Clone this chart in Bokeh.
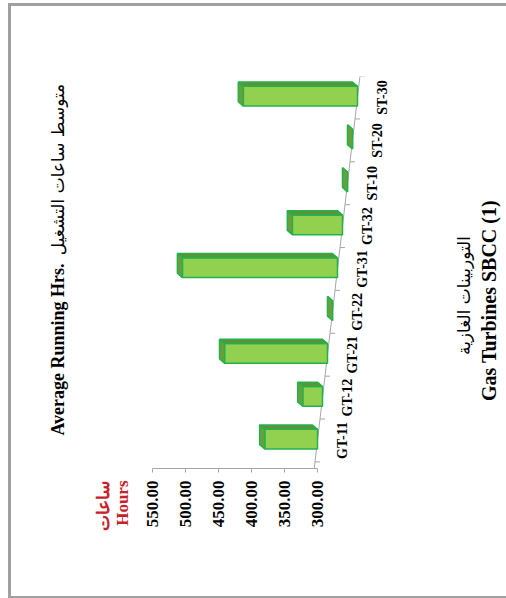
from math import pi
from bokeh.plotting import figure
from bokeh.layouts import row
from bokeh.models import Range1d, FixedTicker, LinearAxis, NumeralTickFormatter
from bokeh.core.properties import value
from bokeh.embed import file_html
from bokeh.resources import INLINE

# ---- data ----
categories = ["GT-11", "GT-12", "GT-21", "GT-22", "GT-31", "GT-32", "ST-10", "ST-20", "ST-30"]
hours = [380, 330, 456, 300, 535, 376, 300, 300, 473]
value_ticks = [300, 350, 400, 450, 500, 550]
axis_min, axis_max = 300, 550

title_en = "Average Running Hrs."
title_ar = "متوسط ساعات التشغيل"
unit_en = "Hours"
unit_ar = "ساعات"
cat_title_en = "Gas Turbines SBCC (1)"
cat_title_ar = "التوربينات الغازية"

# ---- styles ----
FRONT = "#92D050"
TOP = "#62903A"
CAP = "#6E9E3C"
EDGE = "#22B24C"
AXIS = "#A6A6A6"
RED = "#C8202A"
BORDER = "#A0A0A0"
SERIF = "Liberation Serif"
ARAB = "DejaVu Sans"
H = 590
B_TOP, B_BOTTOM = 70, 128          # frame margins shared by all three panels
Y0, Y1 = B_BOTTOM, H - B_TOP       # side panels: y = 596 - page y


def blank(width):
    f = figure(width=width, height=H, x_range=Range1d(0, width), y_range=Range1d(Y0, Y1),
               output_backend="svg", toolbar_location=None,
               x_axis_location=None, y_axis_location=None,
               min_border_left=0, min_border_right=0,
               min_border_top=B_TOP, min_border_bottom=B_BOTTOM)
    f.outline_line_color = None
    f.xgrid.visible = False
    f.ygrid.visible = False
    return f


def vtext(f, x, y, text, font, size, color="black", bold=True):
    f.text(x=x, y=y, text=text, angle=pi / 2, text_align="center",
           text_baseline="middle", text_font=value(font), text_font_size=size,
           text_font_style="bold" if bold else "normal", text_color=color)


# ---- left panel: chart title + unit label ----
left = blank(127)
vtext(left, [46], [247], [title_en], SERIF, "18px")
vtext(left, [46], [427], [title_ar], ARAB, "17px", bold=False)

unit_pos = [92, 111]
unit_axis = LinearAxis(ticker=FixedTicker(ticks=unit_pos))
unit_axis.major_label_overrides = {unit_pos[0]: unit_ar, unit_pos[1]: unit_en}
unit_axis.major_label_orientation = pi / 2
unit_axis.axis_line_color = None
unit_axis.major_tick_line_color = None
unit_axis.minor_tick_line_color = None
unit_axis.major_tick_out = 0
unit_axis.major_tick_in = 0
unit_axis.major_label_standoff = 12
unit_axis.major_label_text_font = SERIF
unit_axis.major_label_text_font_style = "bold"
unit_axis.major_label_text_font_size = "17px"
unit_axis.major_label_text_color = RED
left.add_layout(unit_axis, "below")

# ---- main chart (rotated 3-D column chart) ----
PX_PER_UNIT = 0.66               # 165 px for 250 hours
skew = 5 / PX_PER_UNIT           # perspective shift of the floor per category (value units)
x_end = axis_min - 75 / PX_PER_UNIT
p = figure(width=302, height=H,
           x_range=Range1d(axis_max, x_end), y_range=Range1d(-0.654, 8.49),
           output_backend="svg", toolbar_location=None,
           x_axis_location=None, y_axis_location=None,
           min_border_left=14, min_border_right=48,
           min_border_top=B_TOP, min_border_bottom=B_BOTTOM)
p.outline_line_color = None
p.xgrid.visible = False
p.ygrid.visible = False

xaxis = LinearAxis(ticker=FixedTicker(ticks=value_ticks),
                   formatter=NumeralTickFormatter(format="0.00"),
                   bounds=(axis_min, axis_max))
xaxis.major_label_orientation = pi / 2
xaxis.axis_line_color = AXIS
xaxis.major_tick_line_color = AXIS
xaxis.major_tick_in = 0
xaxis.major_tick_out = 4
xaxis.minor_tick_line_color = None
xaxis.major_label_standoff = 8
xaxis.major_label_text_font = SERIF
xaxis.major_label_text_font_style = "bold"
xaxis.major_label_text_font_size = "17px"
xaxis.major_label_text_color = "black"
p.add_layout(xaxis, "below")

idx = list(range(len(categories)))


def floor(y):
    return axis_min - skew * y


# slanted category axis (floor edge) with ticks between categories
y_lo, y_hi = -0.654, 8.6
p.line(x=[floor(y_lo), floor(y_hi)], y=[y_lo, y_hi], line_color=AXIS, line_width=1)
tick_y = [i - 0.5 for i in range(len(categories) + 1)]
tick_len = 5 / PX_PER_UNIT
p.segment(x0=[floor(y) for y in tick_y], y0=tick_y,
          x1=[floor(y) - tick_len for y in tick_y], y1=tick_y,
          line_color=AXIS, line_width=1)

# category labels along the slanted axis
label_off = 25 / PX_PER_UNIT
vtext(p, [floor(i) - label_off for i in idx], idx, categories, SERIF, "14px")

# 3D-looking bars: front face, top strip, end cap
dv = 7.6   # depth in value units
dy = 0.10  # depth in category units
lo, hi = -0.2, 0.26
base = [floor(i) for i in idx]
ends = [h - axis_min + b for h, b in zip(hours, base)]
p.quad(left=base, right=ends, bottom=[i + lo for i in idx], top=[i + hi for i in idx],
       fill_color=FRONT, line_color=EDGE, line_width=1.5)
top_xs = [[b, e, e + dv, b + dv] for b, e in zip(base, ends)]
top_ys = [[i + hi, i + hi, i + hi + dy, i + hi + dy] for i in idx]
p.patches(top_xs, top_ys, fill_color=TOP, line_color=EDGE, line_width=1.5)
cap_xs = [[e, e + dv, e + dv, e] for e in ends]
cap_ys = [[i + lo, i + lo + dy, i + hi + dy, i + hi] for i in idx]
p.patches(cap_xs, cap_ys, fill_color=CAP, line_color=EDGE, line_width=1.5)

# ---- right panel: category title ----
right = blank(66)
vtext(right, [48], [296], [cat_title_en], SERIF, "20px")
vtext(right, [23], [301], [cat_title_ar], ARAB, "17px", bold=False)

layout = row(left, p, right, styles={"border-left": f"3px solid {BORDER}",
                                      "border-top": f"3px solid {BORDER}",
                                      "border-bottom": f"2px solid {BORDER}",
                                      "margin-left": "8px", "margin-top": "3px"})

open("out.html", "w").write(file_html(layout, INLINE))
